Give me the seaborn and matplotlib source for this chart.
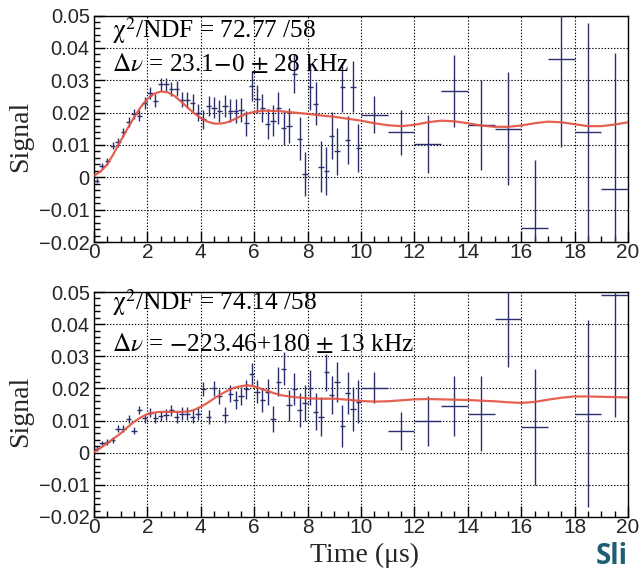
import numpy as np
import pandas as pd
import matplotlib
matplotlib.use('Agg')
import matplotlib.pyplot as plt
import matplotlib.ticker as mticker
import seaborn as sns

# Time bins (us): 0.2 us wide up to 10 us, then 1 us wide up to 20 us
fine_t = [0.1, 0.3, 0.5, 0.7, 0.9, 1.1, 1.3, 1.5, 1.7, 1.9,
          2.1, 2.3, 2.5, 2.7, 2.9, 3.1, 3.3, 3.5, 3.7, 3.9,
          4.1, 4.3, 4.5, 4.7, 4.9, 5.1, 5.3, 5.5, 5.7, 5.9,
          6.1, 6.3, 6.5, 6.7, 6.9, 7.1, 7.3, 7.5, 7.7, 7.9,
          8.1, 8.3, 8.5, 8.7, 8.9, 9.1, 9.3, 9.5, 9.7, 9.9]
coarse_t = [10.5, 11.5, 12.5, 13.5, 14.5, 15.5, 16.5, 17.5, 18.5, 19.5]
fine_halfwidth = 0.1
coarse_halfwidth = 0.5

# Top panel measured signal
top_fine = [-0.0010, 0.0035, 0.0050, 0.0098, 0.0108, 0.0139, 0.0170, 0.0196, 0.0190, 0.0230,
            0.0261, 0.0237, 0.0287, 0.0287, 0.0274, 0.0274, 0.0240, 0.0240, 0.0230, 0.0200,
            0.0179, 0.0220, 0.0215, 0.0205, 0.0220, 0.0206, 0.0205, 0.0208, 0.0167, 0.0283,
            0.0242, 0.0214, 0.0165, 0.0175, 0.0214, 0.0153, 0.0159, 0.0320, 0.0119, 0.0010,
            0.0280, 0.0227, 0.0033, 0.0019, 0.0129, 0.0080, 0.0278, 0.0115, 0.0280, 0.0091]
top_fine_err = [0.0009, 0.0010, 0.0011, 0.0012, 0.0013, 0.0014, 0.0015, 0.0016, 0.0017, 0.0018,
                0.0019, 0.0020, 0.0021, 0.0021, 0.0022, 0.0023, 0.0024, 0.0025, 0.0026, 0.0027,
                0.0030, 0.0031, 0.0032, 0.0033, 0.0034, 0.0035, 0.0036, 0.0037, 0.0039, 0.0046,
                0.0042, 0.0044, 0.0046, 0.0047, 0.0050, 0.0052, 0.0054, 0.0060, 0.0067, 0.0067,
                0.0072, 0.0066, 0.0080, 0.0075, 0.0072, 0.0072, 0.0075, 0.0073, 0.0078, 0.0075]
top_coarse = [0.0193, 0.0139, 0.0103, 0.0266, 0.0163, 0.0150, -0.0157, 0.0366, 0.0141, -0.0036]
top_coarse_err = [0.0057, 0.0070, 0.0089, 0.0112, 0.0139, 0.0175, 0.0211, 0.0273, 0.0336, 0.0420]

# Bottom panel measured signal (17-18 us bin empty)
bot_fine = [0.0013, 0.0029, 0.0034, 0.0040, 0.0075, 0.0075, 0.0104, 0.0069, 0.0132, 0.0107,
            0.0125, 0.0108, 0.0115, 0.0118, 0.0132, 0.0112, 0.0122, 0.0122, 0.0112, 0.0122,
            0.0199, 0.0112, 0.0200, 0.0175, 0.0117, 0.0184, 0.0164, 0.0178, 0.0197, 0.0245,
            0.0190, 0.0163, 0.0190, 0.0106, 0.0221, 0.0262, 0.0147, 0.0198, 0.0133, 0.0155,
            0.0202, 0.0128, 0.0112, 0.0250, 0.0180, 0.0220, 0.0084, 0.0187, 0.0135, 0.0158]
bot_fine_err = [0.0007, 0.0008, 0.0009, 0.0010, 0.0010, 0.0011, 0.0012, 0.0012, 0.0013, 0.0014,
                0.0015, 0.0015, 0.0016, 0.0017, 0.0017, 0.0018, 0.0019, 0.0019, 0.0020, 0.0021,
                0.0022, 0.0022, 0.0023, 0.0024, 0.0025, 0.0026, 0.0027, 0.0028, 0.0030, 0.0034,
                0.0035, 0.0037, 0.0040, 0.0040, 0.0045, 0.0050, 0.0048, 0.0050, 0.0052, 0.0055,
                0.0055, 0.0058, 0.0060, 0.0058, 0.0060, 0.0062, 0.0065, 0.0065, 0.0068, 0.0067]
bot_coarse = [0.0202, 0.0068, 0.0099, 0.0146, 0.0122, 0.0416, 0.0081, np.nan, 0.0122, 0.0490]
bot_coarse_err = [0.0048, 0.0060, 0.0078, 0.0094, 0.0118, 0.0150, 0.0180, np.nan, 0.0290, 0.0380]

# Fit curves
top_fit_t = [0, 0.25, 0.5, 0.75, 1.0, 1.25, 1.5, 1.75, 2.0, 2.25, 2.5, 2.75, 3.0, 3.25, 3.5, 3.75,
             4.0, 4.25, 4.5, 4.75, 5.0, 5.25, 5.5, 5.75, 6.0, 6.25, 6.5, 6.75, 7.0, 7.5, 8.0, 8.5,
             9.0, 9.5, 10.0, 10.5, 11.0, 11.5, 12.0, 12.5, 13.0, 13.5, 14.0, 14.5, 15.0, 15.5,
             16.0, 16.5, 17.0, 17.5, 18.0, 18.5, 19.0, 19.5, 20.0]
top_fit = [0.0005, 0.0018, 0.0040, 0.0075, 0.0113, 0.0150, 0.0185, 0.0217, 0.0242, 0.0258, 0.0265,
           0.0263, 0.0252, 0.0235, 0.0216, 0.0198, 0.0183, 0.0172, 0.0166, 0.0166, 0.0170, 0.0179,
           0.0189, 0.0197, 0.0202, 0.0205, 0.0206, 0.0205, 0.0204, 0.0200, 0.0196, 0.0191, 0.0187,
           0.0181, 0.0175, 0.0167, 0.0161, 0.0158, 0.0162, 0.0170, 0.0175, 0.0173, 0.0167, 0.0160,
           0.0156, 0.0156, 0.0160, 0.0167, 0.0172, 0.0170, 0.0164, 0.0158, 0.0158, 0.0163, 0.0170]
bot_fit_t = top_fit_t
bot_fit = [0.0002, 0.0015, 0.0030, 0.0045, 0.0060, 0.0079, 0.0096, 0.0110, 0.0120, 0.0125, 0.0127,
           0.0127, 0.0127, 0.0127, 0.0128, 0.0133, 0.0143, 0.0155, 0.0169, 0.0182, 0.0193, 0.0202,
           0.0207, 0.0210, 0.0206, 0.0199, 0.0192, 0.0185, 0.0179, 0.0173, 0.0169, 0.0168, 0.0168,
           0.0165, 0.0161, 0.0159, 0.0160, 0.0163, 0.0166, 0.0167, 0.0166, 0.0165, 0.0164, 0.0162,
           0.0160, 0.0157, 0.0155, 0.0158, 0.0165, 0.0171, 0.0175, 0.0175, 0.0174, 0.0173, 0.0172]

top_text = [r'$\mathrm{\chi}^{2}$/NDF = 72.77 /58', r'$\Delta\nu$ = 23.1$-$0 $\pm$ 28 kHz']
bot_text = [r'$\mathrm{\chi}^{2}$/NDF = 74.14 /58', r'$\Delta\nu$ = $-$223.46+180 $\pm$ 13 kHz']

NAVY = '#2a2e6c'
FIT_RED = '#e4503e'

sns.set_style('ticks')
plt.rcParams['font.family'] = ['Liberation Sans', 'DejaVu Sans']
plt.rcParams['mathtext.fontset'] = 'stix'

fig = plt.figure(figsize=(6.4, 5.72), dpi=100)
ax_top = fig.add_axes([94 / 640, 1 - 242 / 572, 534 / 640, 226.5 / 572])
ax_bot = fig.add_axes([94 / 640, 1 - 517 / 572, 534 / 640, 225 / 572])


def ytick_fmt(v, _):
    if abs(v) < 1e-9:
        return '0'
    return f'{v:.2f}'.replace('-', '\u2212')


def draw_panel(ax, fine, fine_err, coarse, coarse_err, fit_t, fit, texts, text_y):
    t = np.array(fine_t + coarse_t)
    v = np.array(fine + coarse, dtype=float)
    e = np.array(fine_err + coarse_err, dtype=float)
    w = np.array([fine_halfwidth] * len(fine_t) + [coarse_halfwidth] * len(coarse_t))
    ok = ~np.isnan(v)
    ax.errorbar(t[ok], v[ok], xerr=w[ok], yerr=e[ok], fmt='none',
                ecolor=NAVY, elinewidth=1.0, capsize=0, zorder=3)

    df = pd.DataFrame({'Time': fit_t, 'Signal': fit})
    sns.lineplot(data=df, x='Time', y='Signal', ax=ax, color=FIT_RED,
                 lw=1.6, alpha=0.9, zorder=4)

    ax.set_xlim(0, 20)
    ax.set_ylim(-0.02, 0.05)
    ax.xaxis.set_major_locator(mticker.MultipleLocator(2))
    ax.xaxis.set_minor_locator(mticker.MultipleLocator(0.5))
    ax.yaxis.set_major_locator(mticker.MultipleLocator(0.01))
    ax.yaxis.set_minor_locator(mticker.MultipleLocator(0.002))
    ax.yaxis.set_major_formatter(mticker.FuncFormatter(ytick_fmt))
    ax.xaxis.set_major_formatter(mticker.FuncFormatter(lambda v, _: f'{v:.0f}'))
    ax.tick_params(axis='both', which='both', direction='in', top=False, right=False,
                   color='black', width=1.0)
    ax.tick_params(axis='y', which='major', length=8, labelsize=14.5, pad=3)
    ax.tick_params(axis='y', which='minor', length=4)
    ax.tick_params(axis='x', which='major', length=8, labelsize=15, pad=1)
    ax.tick_params(axis='x', which='minor', length=4)
    ax.grid(True, which='major', color='black', lw=0.8, ls=(0, (1.2, 1.6)))
    ax.set_axisbelow(True)
    for s in ax.spines.values():
        s.set_color('black')
        s.set_linewidth(1.0)

    ax.set_xlabel('')
    ax.set_ylabel('Signal', family='Liberation Serif', fontsize=20)

    for txt, yy in zip(texts, text_y):
        ax.text(18 / 534, yy, txt, transform=ax.transAxes, family='Liberation Serif',
                fontsize=18.3, va='baseline', ha='left', color='black', zorder=5)


draw_panel(ax_top, top_fine, top_fine_err, top_coarse, top_coarse_err,
           top_fit_t, top_fit, top_text, [1 - 22.5 / 226.5, 1 - 55.5 / 226.5])
draw_panel(ax_bot, bot_fine, bot_fine_err, bot_coarse, bot_coarse_err,
           bot_fit_t, bot_fit, bot_text, [1 - 18 / 225, 1 - 59 / 225])

ax_top.yaxis.set_label_coords(-61 / 534, 0.467)
ax_bot.yaxis.set_label_coords(-61 / 534, 0.471)

fig.text(364 / 640, 1 - 562 / 572, 'Time (\u03bcs)', family='Liberation Serif',
         fontsize=20, ha='center', va='baseline')
fig.text(596 / 640, 1 - 564 / 572, 'Sli', family='Open Sans', fontweight='bold',
         fontsize=20, color='#1d5f73', ha='left', va='baseline')

fig.savefig('out.png', dpi=100)
